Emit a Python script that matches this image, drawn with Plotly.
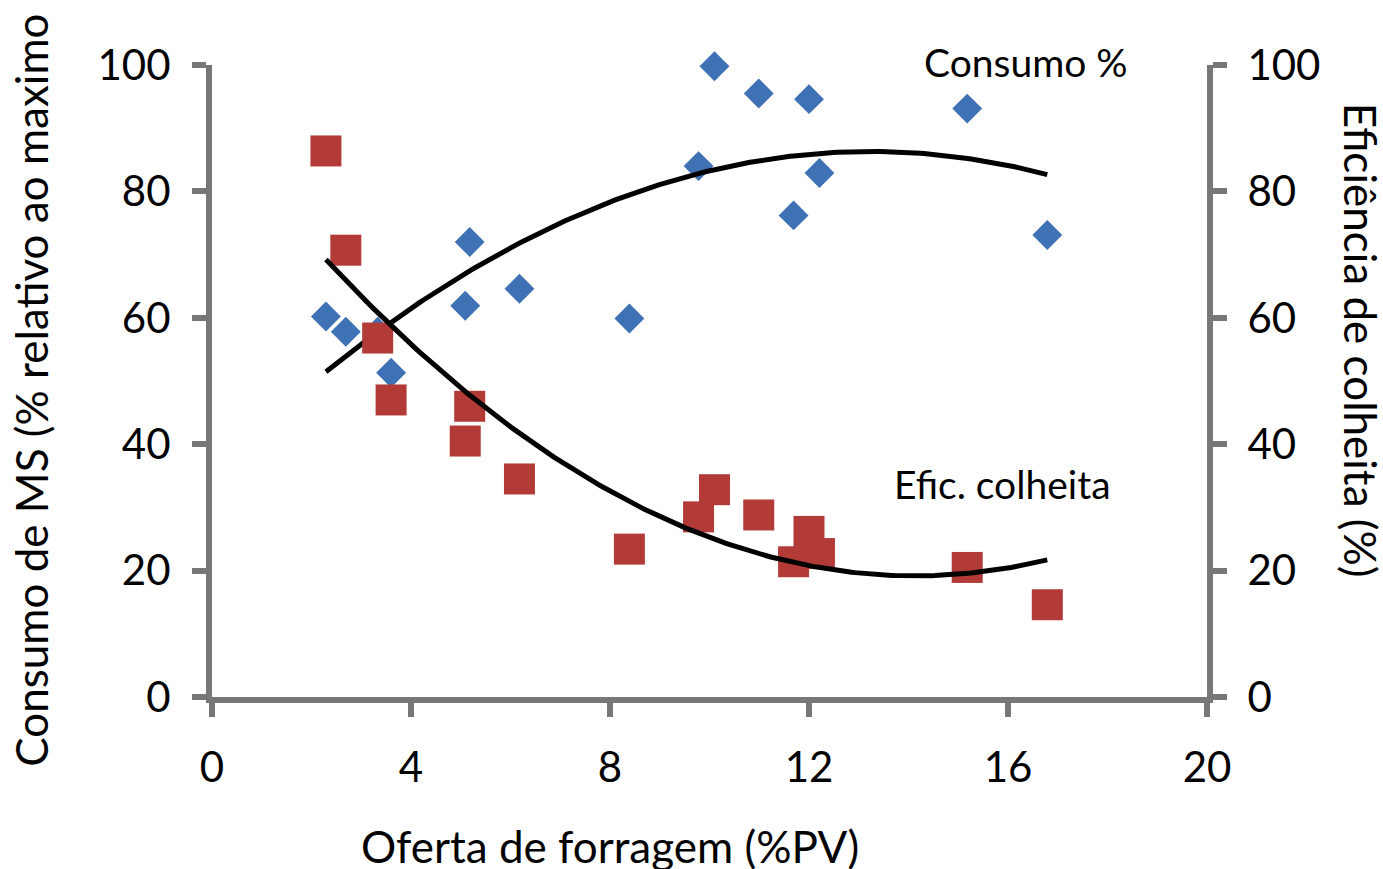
import numpy as np
import plotly.graph_objects as go

# Oferta de forragem (%PV) for each observation
oferta = [2.29, 2.69, 3.33, 3.60, 5.09, 5.18, 6.18, 8.39,
          9.78, 10.10, 10.99, 11.69, 12.00, 12.21, 15.18, 16.79]

# Consumo de MS (% relativo ao máximo)
consumo = [60.2, 57.8, 57.8, 51.3, 61.9, 72.0, 64.6, 59.9,
           84.0, 99.8, 95.5, 76.2, 94.6, 82.9, 93.1, 73.1]

# Eficiência de colheita (%)
eficiencia = [86.4, 70.7, 56.8, 47.0, 40.5, 46.0, 34.5, 23.4,
              28.5, 32.8, 28.8, 21.4, 26.2, 22.7, 20.5, 14.6]

x_ticks = [0, 4, 8, 12, 16, 20]
y_ticks = [0, 20, 40, 60, 80, 100]

BLUE = "#3F71B5"
RED = "#B23B37"
AXIS = "#777777"
FONT = "Lato"

# second-order polynomial trendlines over the observed range
xs = np.linspace(min(oferta), max(oferta), 200)
fit_consumo = np.polyval(np.polyfit(oferta, consumo, 2), xs)
fit_efic = np.polyval(np.polyfit(oferta, eficiencia, 2), xs)

fig = go.Figure()
fig.add_trace(go.Scatter(x=oferta, y=consumo, mode="markers",
                         marker=dict(symbol="diamond", size=23, color=BLUE),
                         cliponaxis=False, showlegend=False))
fig.add_trace(go.Scatter(x=oferta, y=eficiencia, mode="markers", yaxis="y2",
                         marker=dict(symbol="square", size=31, color=RED),
                         cliponaxis=False, showlegend=False))
fig.add_trace(go.Scatter(x=xs, y=fit_consumo, mode="lines",
                         line=dict(color="black", width=5),
                         cliponaxis=False, showlegend=False))
fig.add_trace(go.Scatter(x=xs, y=fit_efic, mode="lines", yaxis="y2",
                         line=dict(color="black", width=5),
                         cliponaxis=False, showlegend=False))

axis_common = dict(showgrid=False, zeroline=False, showline=True,
                   linecolor=AXIS, linewidth=6, ticks="outside",
                   tickcolor=AXIS, tickwidth=6, ticklen=14,
                   tickfont=dict(family=FONT, size=42, color="black"))

fig.update_layout(
    width=1383, height=869,
    margin=dict(l=212, r=176, t=65, b=172),
    paper_bgcolor="white", plot_bgcolor="white",
    font=dict(family=FONT, color="black"),
    xaxis=dict(range=[0, 20], tickvals=x_ticks, ticklabelstandoff=15,
               **axis_common),
    yaxis=dict(range=[0, 100], tickvals=y_ticks, ticklabelstandoff=13,
               **axis_common),
    yaxis2=dict(range=[0, 100], tickvals=y_ticks, overlaying="y",
                side="right", ticklabelstandoff=12, **axis_common),
    annotations=[
        dict(text="Consumo %", x=0.7136, y=1.0055, xref="paper", yref="paper",
             xanchor="left", yanchor="middle", showarrow=False,
             font=dict(family=FONT, size=39)),
        dict(text="Efic. colheita", x=13.67, y=33.7, xref="x", yref="y",
             xanchor="left", yanchor="middle", showarrow=False,
             font=dict(family=FONT, size=39)),
        dict(text="Oferta de forragem (%PV)", x=0.4, y=-0.235,
             xref="paper", yref="paper", xanchor="center", yanchor="middle",
             showarrow=False, font=dict(family=FONT, size=44)),
        dict(text="Consumo de MS (% relativo ao maximo", x=-0.182, y=0.486,
             xref="paper", yref="paper", xanchor="center", yanchor="middle",
             textangle=-90, showarrow=False, font=dict(family=FONT, size=44)),
        dict(text="Eficiência de colheita (%)", x=1.155, y=0.565,
             xref="paper", yref="paper", xanchor="center", yanchor="middle",
             textangle=90, showarrow=False, font=dict(family=FONT, size=44)),
    ],
)

fig.write_html("out.html")
